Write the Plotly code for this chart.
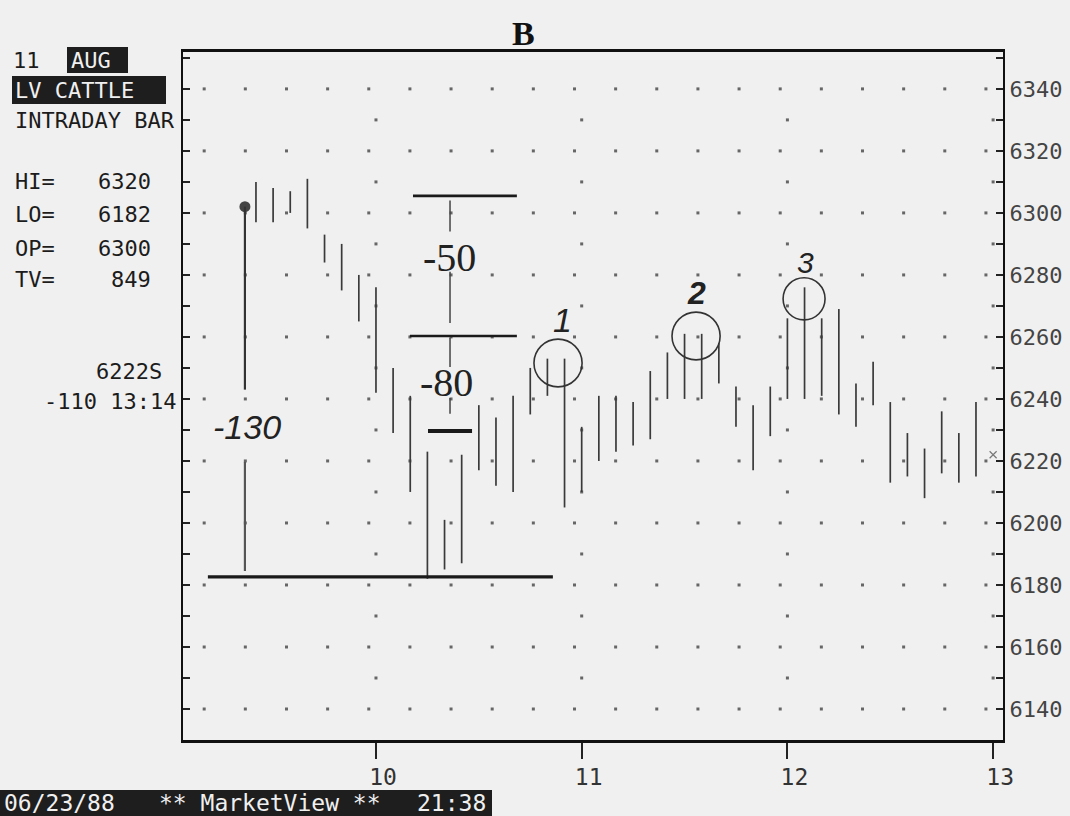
import plotly.graph_objects as go

# ---------------- data ----------------
times = ["9:25", "9:30", "9:35", "9:40", "9:45", "9:50", "9:55", "10:00", "10:05", "10:10",
         "10:15", "10:20", "10:25", "10:30", "10:35", "10:40", "10:45", "10:50", "10:55", "11:00",
         "11:05", "11:10", "11:15", "11:20", "11:25", "11:30", "11:35", "11:40", "11:45", "11:50",
         "11:55", "12:00", "12:05", "12:10", "12:15", "12:20", "12:25", "12:30", "12:35", "12:40",
         "12:45", "12:50", "12:55"]
highs = [6310, 6308, 6307, 6311, 6293, 6290, 6280, 6276, 6250, 6241,
         6223, 6201, 6222, 6238, 6234, 6241, 6250, 6253, 6253, 6231,
         6241, 6241, 6239, 6249, 6255, 6261, 6261, 6258, 6244, 6238,
         6244, 6266, 6276, 6266, 6269, 6245, 6252, 6239, 6229, 6224,
         6236, 6229, 6239]
lows = [6297, 6297, 6300, 6295, 6284, 6275, 6265, 6242, 6229, 6210,
        6182, 6185, 6187, 6217, 6212, 6210, 6235, 6241, 6205, 6210,
        6220, 6223, 6225, 6227, 6240, 6240, 6240, 6245, 6231, 6217,
        6228, 6240, 6240, 6241, 6235, 6231, 6238, 6213, 6215, 6208,
        6216, 6213, 6215]
y_ticks = [6140, 6160, 6180, 6200, 6220, 6240, 6260, 6280, 6300, 6320, 6340]
x_ticks = [10, 11, 12, 13]
x_tick_labels = ["10", "11", "12", "13"]

last_time, last_price = 13.0, 6222
open_time, open_price = 9.363, 6302
low_price = 6182.6

# ---------------- geometry helpers ----------------
L, R, T, B = 183, 1003, 52, 740
W, H = 1070, 816
def pxp(x):
    return (x - L) / (R - L)
def pyp(y):
    return (B - y) / (B - T)

hours = [int(s.split(":")[0]) + int(s.split(":")[1]) / 60 for s in times]

bx, by = [], []
for t, h, l in zip(hours, highs, lows):
    bx += [t, t, None]
    by += [l, h, None]

BG = "#f0f0f0"
INK = "#1c1c1c"
MONO = "DejaVu Sans Mono"

fig = go.Figure()

# dotted grid (style)
gx, gy = [], []
for v in range(6140, 6341, 20):
    k = 0
    while 9.2 + 0.2 * k <= 13.01:
        gx.append(9.2 + 0.2 * k - 0.035)
        gy.append(v)
        k += 1
for v in range(6150, 6341, 20):
    for hh in [10, 11, 12, 13]:
        gx.append(hh)
        gy.append(v)
fig.add_trace(go.Scatter(x=gx, y=gy, mode="markers",
                         marker=dict(size=3, color="#666666", symbol="square"),
                         hoverinfo="skip", showlegend=False))

# bars
fig.add_trace(go.Scatter(x=bx, y=by, mode="lines",
                         line=dict(color="#3a3a3a", width=1.7),
                         hoverinfo="skip", showlegend=False))

# last price marker
fig.add_trace(go.Scatter(x=[last_time], y=[last_price], mode="markers",
                         marker=dict(symbol="x-thin", size=7, color="#777777",
                                     line=dict(width=1.2, color="#777777")),
                         showlegend=False, hoverinfo="skip"))

# open dot (hand annotation)
fig.add_trace(go.Scatter(x=[open_time], y=[open_price], mode="markers",
                         marker=dict(size=11, color="#444444"),
                         showlegend=False, hoverinfo="skip"))

shapes = []
def seg(x0, y0, x1, y1, w=1.6, c="#2a2a2a"):
    shapes.append(dict(type="line", xref="x", yref="y", x0=x0, y0=y0, x1=x1, y1=y1,
                       line=dict(color=c, width=w)))

# hand-drawn measurement lines
seg(9.183, low_price, 10.86, low_price, 3.2, "#1a1a1a")
seg(open_time, open_price, open_time, 6243, 2.2, "#333333")
seg(open_time, 6219.7, open_time, 6184.5, 2.2, "#555555")
seg(10.18, 6305.5, 10.685, 6305.5, 2.6, "#1a1a1a")
seg(10.36, 6304, 10.36, 6294, 1.5, "#444444")
seg(10.36, 6281, 10.36, 6264.5, 1.5, "#444444")
seg(10.165, 6260.3, 10.685, 6260.3, 2.6, "#1a1a1a")
seg(10.36, 6259.7, 10.36, 6250.3, 1.5, "#444444")
seg(10.36, 6240.3, 10.36, 6235.2, 1.5, "#444444")
seg(10.253, 6229.7, 10.467, 6229.7, 4, "#1a1a1a")

# circles
for (ct, cp, rt, rp) in [(10.885, 6251.6, 0.117, 7.7), (11.556, 6260.3, 0.117, 7.7),
                         (12.081, 6272.3, 0.102, 6.8)]:
    shapes.append(dict(type="circle", xref="x", yref="y", x0=ct - rt, x1=ct + rt,
                       y0=cp - rp, y1=cp + rp, line=dict(color="#333333", width=1.6)))

# inverted text boxes (screen)
def rect(x0, y0, x1, y1):
    shapes.append(dict(type="rect", xref="paper", yref="paper", x0=pxp(x0), x1=pxp(x1),
                       y0=pyp(y1), y1=pyp(y0), fillcolor="#1e1e1e", line=dict(width=0),
                       layer="above"))
rect(67, 47, 128, 73)
rect(12, 76, 166, 104)
rect(0, 790, 492, 816)

ann = []
def ptxt(x, y, s, size=22, color=INK, anchor="left", font=MONO):
    ann.append(dict(xref="paper", yref="paper", x=pxp(x), y=pyp(y), text=s, showarrow=False,
                    xanchor=anchor, yanchor="middle",
                    font=dict(family=font, size=size, color=color)))
def dtxt(x, y, s, size, family, color="#222222"):
    ann.append(dict(xref="x", yref="y", x=x, y=y, text=s, showarrow=False,
                    xanchor="center", yanchor="middle",
                    font=dict(family=family, size=size, color=color)))

ptxt(11, 60, "11")
ptxt(69, 60, "AUG", color="#f0f0f0")
ptxt(13, 90, "LV CATTLE", color="#f0f0f0")
ptxt(13, 121, "INTRADAY BAR")
ptxt(13, 181, "HI=")
ptxt(13, 215, "LO=")
ptxt(13, 249, "OP=")
ptxt(13, 279, "TV=")
ptxt(153, 181, "6320", anchor="right")
ptxt(153, 215, "6182", anchor="right")
ptxt(153, 249, "6300", anchor="right")
ptxt(153, 279, "849", anchor="right")
ptxt(164, 371, "6222S", anchor="right")
ptxt(178, 401, "-110 13:14", anchor="right")
ptxt(2, 803, "06/23/88", size=23, color="#f0f0f0")
ptxt(157, 803, "** MarketView **", size=23, color="#f0f0f0")
ptxt(415, 803, "21:38", size=23, color="#f0f0f0")

# title
ann.append(dict(xref="paper", yref="paper", x=pxp(523), y=pyp(34), text="<b>B</b>",
                showarrow=False, xanchor="center", yanchor="middle",
                font=dict(family="Liberation Serif", size=34, color="#111111")))

# hand-written annotations
dtxt(9.373, 6231, "<i>-130</i>", 34, "Liberation Sans")
dtxt(10.355, 6285.5, "-50", 40, "Liberation Serif")
dtxt(10.345, 6245.2, "-80", 40, "Liberation Serif")
dtxt(10.909, 6265.5, "<i>1</i>", 34, "Liberation Sans")
dtxt(11.56, 6274.2, "<b><i>2</i></b>", 32, "Liberation Sans")
dtxt(12.09, 6283.9, "<i>3</i>", 30, "Liberation Sans")

fig.update_layout(
    width=W, height=H, autosize=False,
    margin=dict(l=L, r=W - R, t=T, b=H - B, pad=0, autoexpand=False),
    paper_bgcolor=BG, plot_bgcolor=BG,
    shapes=shapes, annotations=ann, showlegend=False,
    xaxis=dict(range=[9.062, 13.048], tickvals=x_ticks, ticktext=x_tick_labels,
               automargin=False,
               ticks="outside", ticklen=16, tickwidth=2, tickcolor="#222222",
               showline=True, linewidth=3, linecolor="#111111", mirror=True,
               showgrid=False, zeroline=False, ticklabelshift=7, ticklabelstandoff=-2,
               tickfont=dict(family=MONO, size=23, color="#333333")),
    yaxis=dict(range=[6130, 6351.9], tickvals=y_ticks, side="right",
               automargin=False,
               ticks="inside", ticklen=7, tickwidth=2, tickcolor="#222222",
               minor=dict(dtick=10, tick0=6130, ticks="inside", ticklen=7, tickwidth=2,
                          tickcolor="#222222"),
               showline=True, linewidth=2, linecolor="#111111", mirror="allticks",
               showgrid=False, zeroline=False, ticklabelstandoff=0,
               tickfont=dict(family=MONO, size=22, color="#444444")),
)

fig.write_html("out.html", config={"displayModeBar": False},
               post_script="document.body.style.margin='0';document.body.style.overflow='hidden';document.body.style.background='#f0f0f0';")
